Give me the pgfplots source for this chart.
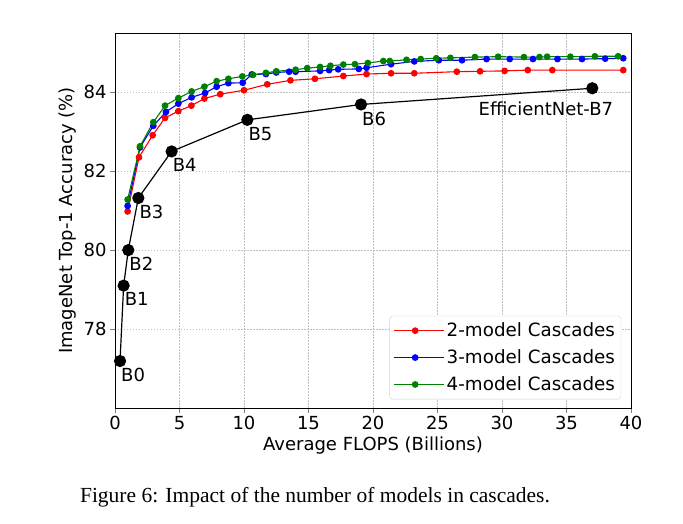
\documentclass[border=0pt]{standalone}
\usepackage{pgfplots}
\pgfplotsset{compat=1.18}
\usepackage{fontspec}
\setmainfont{DejaVu Sans}
\newfontfamily\capfont{Liberation Serif}
\definecolor{mplgreen}{rgb}{0,0.5,0}
\begin{document}
\begin{tikzpicture}[x=1pt,y=1pt]
\path[use as bounding box] (-115,-116) rectangle (568,408);
\begin{axis}[
  at={(0,0)}, anchor=south west,
  scale only axis, width=516pt, height=375pt,
  xmin=0, xmax=40, ymin=76, ymax=85.5,
  xtick={0,5,...,40}, ytick={78,80,82,84},
  grid=major, grid style={gray!50, dash pattern=on 1.5pt off 1.5pt, line width=0.6pt},
  tick align=outside, tick pos=left, major tick length=5pt,
  /pgf/number format/assume math mode=true,
  tick label style={font=\fontsize{18}{20}\selectfont},
  label style={font=\fontsize{18}{20}\selectfont},
  xlabel={Average FLOPS (Billions)},
  ylabel={ImageNet Top-1 Accuracy (\%)},
  axis line style={line width=0.8pt},
  legend cell align=left,
  legend style={at={(0.981,0.023)}, anchor=south east, font=\fontsize{18.3}{20}\selectfont,
     draw=gray!35, rounded corners=3pt, row sep=7.5pt, inner xsep=4pt, inner ysep=5pt},
  legend image code/.code={\path (-2pt,0pt) -- (48pt,0pt);\draw[mark repeat=2,mark phase=2] plot coordinates {(0pt,0pt) (19pt,0pt) (38pt,0pt)};},
]
\addplot[black, line width=1.2pt, mark=*, mark size=5.5pt, forget plot] coordinates {
(0.39,77.19) (0.67,79.1) (1.03,80.0) (1.81,81.32) (4.39,82.5) (10.26,83.3) (19.07,83.69) (37.0,84.1)};
\addplot[red, line width=1.1pt, mark=*, mark size=2.8pt] coordinates {
(0.98,80.98) (1.86,82.35) (2.92,82.91) (3.88,83.35) (4.91,83.52) (5.92,83.66) (6.93,83.84) (8.16,83.95) (10.0,84.05) (11.8,84.2) (13.6,84.3) (15.5,84.34) (17.7,84.41) (19.5,84.46) (21.4,84.48) (23.2,84.48) (26.5,84.52) (28.3,84.53) (30.2,84.54) (32.0,84.56) (33.9,84.56) (39.4,84.56)};
\addlegendentry{2-model Cascades}
\addplot[blue, line width=1.1pt, mark=*, mark size=2.8pt] coordinates {
(0.98,81.12) (1.94,82.6) (2.97,83.15) (3.95,83.5) (4.91,83.71) (5.94,83.87) (6.98,83.98) (7.88,84.14) (8.79,84.23) (9.9,84.24) (10.6,84.45) (11.7,84.46) (12.5,84.5) (13.5,84.52) (14.0,84.52) (15.9,84.54) (16.6,84.56) (17.3,84.58) (18.9,84.59) (19.5,84.62) (21.4,84.71) (23.2,84.78) (25.1,84.81) (26.9,84.81) (28.8,84.84) (30.6,84.84) (32.4,84.84) (34.3,84.84) (36.2,84.84) (38.0,84.85) (39.4,84.86)};
\addlegendentry{3-model Cascades}
\addplot[mplgreen, line width=1.1pt, mark=*, mark size=2.8pt] coordinates {
(0.98,81.28) (1.94,82.63) (2.97,83.24) (3.88,83.66) (4.91,83.85) (5.94,84.02) (6.93,84.14) (7.88,84.28) (8.79,84.34) (9.87,84.4) (10.7,84.44) (11.7,84.49) (12.5,84.53) (14.0,84.57) (14.9,84.61) (15.9,84.64) (16.7,84.67) (17.7,84.7) (18.6,84.71) (19.6,84.74) (20.8,84.79) (21.3,84.79) (22.6,84.82) (23.7,84.84) (24.9,84.86) (26.0,84.87) (27.9,84.89) (29.7,84.9) (31.7,84.89) (32.9,84.89) (33.5,84.9) (35.3,84.9) (37.2,84.91) (39.0,84.91)};
\addlegendentry{4-model Cascades}
\begin{scope}[every node/.style={font=\fontsize{18}{20}\selectfont, inner sep=0pt, anchor=north west}]
\node at ([shift={(1pt,-7pt)}]axis cs:0.39,77.19) {B0};
\node at ([shift={(1pt,-7pt)}]axis cs:0.67,79.1) {B1};
\node at ([shift={(1pt,-7pt)}]axis cs:1.03,80.0) {B2};
\node at ([shift={(1pt,-7pt)}]axis cs:1.81,81.32) {B3};
\node at ([shift={(1pt,-7pt)}]axis cs:4.39,82.5) {B4};
\node at ([shift={(1pt,-7pt)}]axis cs:10.26,83.3) {B5};
\node at ([shift={(1pt,-7pt)}]axis cs:19.07,83.69) {B6};
\node[anchor=north east] at ([shift={(21pt,-13pt)}]axis cs:37.0,84.1) {EfficientNet-B7};
\end{scope}
\end{axis}
\node[anchor=base, font=\capfont\fontsize{21.5}{26}\selectfont] at (200,-95) {Figure 6: Impact of the number of models in cascades.};
\end{tikzpicture}
\end{document}
